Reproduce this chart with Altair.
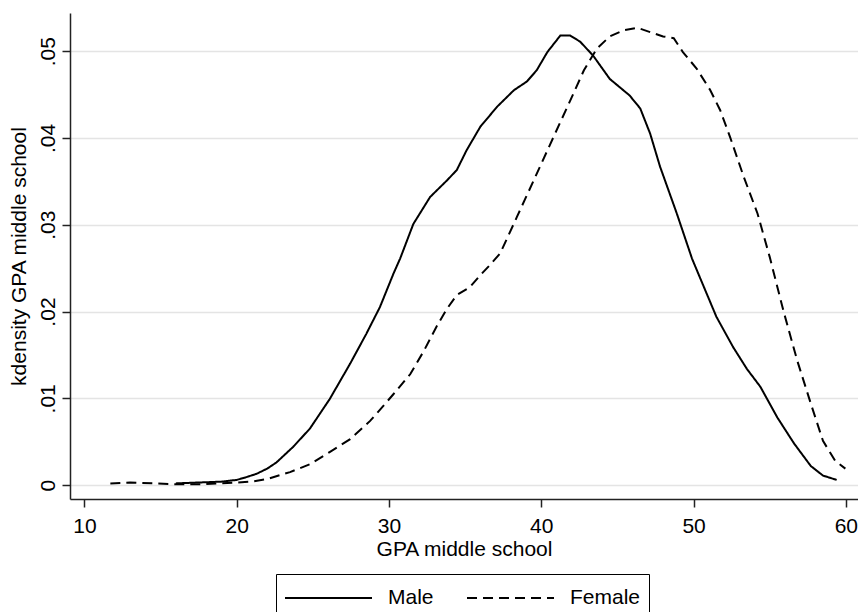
import altair as alt
import pandas as pd

# Kernel density estimates
male_x = [16.0, 17.5, 19.0, 20.0, 20.6, 21.3, 22.0, 22.6, 23.7, 24.8, 26.1, 27.45, 28.5, 29.4, 30.3, 30.73,
          31.6, 32.7, 33.8, 34.45, 35.1, 36.0, 37.1, 38.2, 39.05, 39.7, 40.4, 41.25, 41.9, 42.55, 43.4,
          44.5, 45.8, 46.5, 47.15, 47.8, 48.9, 49.9, 50.4, 51.5, 52.6, 53.5, 54.4, 55.5, 56.6, 57.7,
          58.5, 59.4]
male_y = [0.0002, 0.0003, 0.0004, 0.0006, 0.0009, 0.0013, 0.0019, 0.0026, 0.0044, 0.0065, 0.0099, 0.0140,
          0.0174, 0.0205, 0.0244, 0.0261, 0.0301, 0.0332, 0.0351, 0.0363, 0.0386, 0.0413, 0.0436, 0.0455,
          0.0465, 0.0478, 0.0499, 0.0518, 0.0518, 0.0511, 0.0495, 0.0468, 0.0449, 0.0434, 0.0405, 0.0367,
          0.0313, 0.0261, 0.0240, 0.0194, 0.0159, 0.0134, 0.0113, 0.0078, 0.0048, 0.0022, 0.0011, 0.0006]

female_x = [11.7, 13.0, 14.5, 16.0, 17.5, 19.0, 20.0, 21.0, 22.0, 23.5, 24.8, 26.1, 27.45, 28.76, 29.86,
            30.3, 31.4, 32.3, 33.1, 33.8, 34.45, 35.3, 36.0, 36.6, 37.3, 38.4, 39.5, 40.8, 41.9, 42.8,
            43.65, 44.5, 45.4, 46.3, 47.15, 48.0, 48.7, 49.3, 50.2, 51.1, 51.75, 52.4, 53.3, 54.2, 55.0,
            55.9, 56.8, 57.7, 58.5, 59.3, 59.97]
female_y = [0.0002, 0.0003, 0.0002, 0.0001, 0.0001, 0.0002, 0.0003, 0.0004, 0.0007, 0.0015, 0.0024, 0.0038,
            0.0053, 0.0074, 0.0096, 0.0105, 0.0128, 0.0155, 0.0182, 0.0203, 0.0219, 0.0228, 0.0242, 0.0253,
            0.0267, 0.0309, 0.0351, 0.0401, 0.0443, 0.0478, 0.0503, 0.0517, 0.0524, 0.0527, 0.0522, 0.0517,
            0.0515, 0.0499, 0.0480, 0.0455, 0.0432, 0.0401, 0.0355, 0.0313, 0.0263, 0.0201, 0.0144, 0.0094,
            0.0051, 0.0028, 0.0019]

groups = ["Male", "Female"]
x_ticks = [10, 20, 30, 40, 50, 60]
y_ticks = [0, 0.01, 0.02, 0.03, 0.04, 0.05]

df = pd.concat([
    pd.DataFrame({"gpa": male_x, "density": male_y, "sex": "Male"}),
    pd.DataFrame({"gpa": female_x, "density": female_y, "sex": "Female"}),
])

FONT = "Liberation Sans"

chart = alt.Chart(df).mark_line(color="black", strokeWidth=2, clip=True).encode(
    x=alt.X("gpa:Q",
            scale=alt.Scale(domain=[9.05, 60.8], nice=False, zero=False),
            axis=alt.Axis(values=x_ticks, title="GPA middle school", grid=False,
                          tickSize=8, labelPadding=8, titlePadding=2,
                          labelFontSize=21, titleFontSize=21, labelFont=FONT, titleFont=FONT,
                          titleFontWeight="normal", labelColor="black", titleColor="black",
                          domainColor="#222222", tickColor="#222222", domainWidth=1.5, tickWidth=1.5,
                          labelFlush=False)),
    y=alt.Y("density:Q",
            scale=alt.Scale(domain=[-0.0016, 0.0544], nice=False, zero=False),
            axis=alt.Axis(values=y_ticks, title="kdensity GPA middle school",
                          labelExpr="datum.value == 0 ? '0' : replace(format(datum.value, '.2f'), '0.', '.')",
                          labelAngle=270, labelAlign="center", labelBaseline="bottom",
                          tickSize=8, labelPadding=4, titlePadding=8,
                          labelFontSize=21, titleFontSize=21, labelFont=FONT, titleFont=FONT,
                          titleFontWeight="normal", labelColor="black", titleColor="black",
                          domainColor="#222222", tickColor="#222222", domainWidth=1.5, tickWidth=1.5,
                          grid=True, gridColor="#e4e4e4", gridWidth=1.5, labelFlush=False)),
    strokeDash=alt.StrokeDash("sex:N",
                              scale=alt.Scale(domain=groups, range=[[1, 0], [10, 6]]),
                              legend=alt.Legend(title=None, orient="none", legendX=206, legendY=561,
                                                direction="horizontal", strokeColor="black",
                                                padding=8, symbolType="M-1,0L4.8,0", symbolSize=900,
                                                symbolStrokeWidth=2, symbolStrokeColor="black",
                                                symbolFillColor="transparent",
                                                labelFontSize=21, labelFont=FONT, labelColor="black",
                                                labelOffset=72, columnPadding=29)),
).properties(
    width=788,
    height=486,
    autosize=alt.AutoSizeParams(type="none"),
    padding={"left": 70, "top": 13, "right": 0, "bottom": 120},
    background="white",
).configure_view(strokeWidth=0)

chart.save("out.html", embed_options={"renderer": "svg", "actions": False})
